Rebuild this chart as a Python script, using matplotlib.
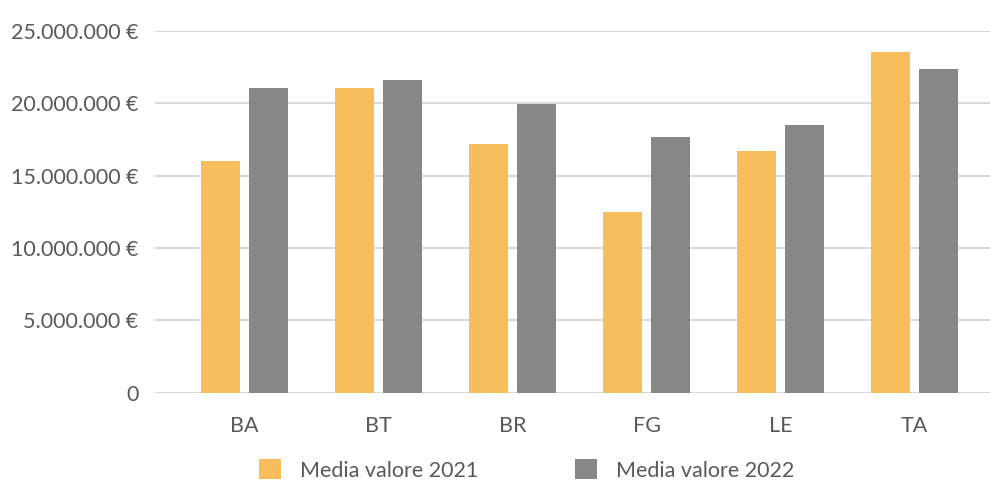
import matplotlib.pyplot as plt
import matplotlib.ticker as ticker
import numpy as np

plt.rcParams['font.family'] = ['Lato', 'DejaVu Sans']

province = ['BA', 'BT', 'BR', 'FG', 'LE', 'TA']
media_2021 = [16.0e6, 21.05e6, 17.2e6, 12.5e6, 16.7e6, 23.55e6]
media_2022 = [21.05e6, 21.6e6, 19.95e6, 17.65e6, 18.5e6, 22.37e6]
label_2021 = 'Media valore 2021'
label_2022 = 'Media valore 2022'

col_2021 = '#F8BD5D'
col_2022 = '#878787'
text_col = '#595959'


def euro_fmt(v, pos):
    if v == 0:
        return '0'
    return '{:,.0f} €'.format(v).replace(',', '.')


fig = plt.figure(figsize=(9.9, 4.8), dpi=100)
ax = fig.add_axes([155 / 990, 1 - 392.7 / 480, 1 - 155 / 990, (392.7 - 31) / 480])

x = np.arange(len(province))
w = 0.291
off = 0.179
b1 = ax.bar(x - off, media_2021, w, color=col_2021, label=label_2021, zorder=3)
b2 = ax.bar(x + off, media_2022, w, color=col_2022, label=label_2022, zorder=3)

ax.set_xlim(-0.668, 5.563)
ax.set_ylim(0, 25e6)
ax.yaxis.set_major_locator(ticker.MultipleLocator(5e6))
ax.yaxis.set_major_formatter(ticker.FuncFormatter(euro_fmt))
ax.set_xticks(x)
ax.set_xticklabels(province)

ax.grid(axis='y', color='#D9D9D9', linewidth=1.5, zorder=0)
for s in ax.spines.values():
    s.set_visible(False)
ax.tick_params(axis='both', length=0, labelsize=15.5, colors=text_col)
ax.tick_params(axis='y', pad=12)
ax.tick_params(axis='x', pad=17)

fig.legend(handles=[b1, b2], loc='center', bbox_to_anchor=(526.5 / 990, 1 - 470 / 480),
           ncol=2, frameon=False, fontsize=15.5, labelcolor=text_col,
           handlelength=1.02, handleheight=1.0, handletextpad=0.88, columnspacing=4.5)

fig.savefig('out.png', dpi=100)
